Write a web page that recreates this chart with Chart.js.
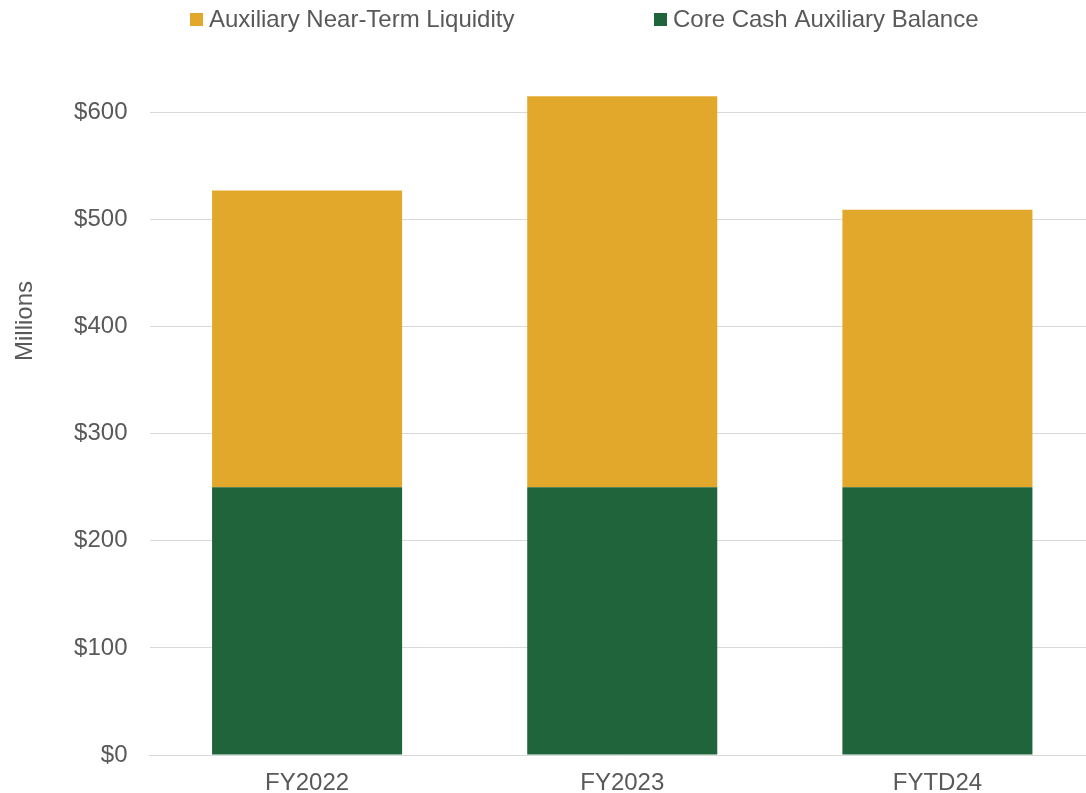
<!DOCTYPE html>
<html>
<head>
<meta charset="utf-8">
<script src="https://cdn.jsdelivr.net/npm/chart.js@4/dist/chart.umd.min.js"></script>
<style>
  html, body { margin: 0; padding: 0; background: #fff; overflow: hidden; }
  #wrap { width: 1086px; height: 793px; overflow: hidden; }
</style>
</head>
<body>
<div id="wrap"><canvas id="chart" width="1095" height="793"></canvas></div>
<script>
// ─── Data ─────────────────────────────────────────────────────────────────────
const categories = ["FY2022", "FY2023", "FYTD24"];
const coreCash   = [250, 250, 250];   // Core Cash Auxiliary Balance ($M)
const nearTerm   = [277, 365, 259];   // Auxiliary Near-Term Liquidity ($M)
const yTicks     = [0, 100, 200, 300, 400, 500, 600];

const GREEN  = "#1F643A";
const ORANGE = "#E1A82C";
const TEXT   = "#595959";
const GRID   = "#D9D9D9";
const FONT   = "'Liberation Sans', Arial, sans-serif";

Chart.defaults.font.family = FONT;
Chart.defaults.color = TEXT;

// legend + rotated axis title drawn in one small plugin
const decorPlugin = {
    id: "decor",
    afterDraw(chart) {
        const c = chart.ctx;
        c.save();
        c.font = "24px " + FONT;
        c.textBaseline = "middle";
        const items = [
            { label: chart.data.datasets[1].label, color: chart.data.datasets[1].backgroundColor, x: 190 },
            { label: chart.data.datasets[0].label, color: chart.data.datasets[0].backgroundColor, x: 654 },
        ];
        items.forEach(it => {
            c.fillStyle = it.color;
            c.fillRect(it.x, 13, 13, 13);
            c.fillStyle = TEXT;
            c.textAlign = "left";
            c.fillText(it.label, it.x + 19, 20);
        });
        // y title
        c.fillStyle = TEXT;
        c.translate(25, 321);
        c.rotate(-Math.PI / 2);
        c.textAlign = "center";
        c.fillText("Millions", 0, 0);
        c.restore();
    }
};

new Chart(document.getElementById("chart"), {
    type: "bar",
    plugins: [decorPlugin],
    data: {
        labels: categories,
        datasets: [
            { label: "Core Cash Auxiliary Balance", data: coreCash, backgroundColor: GREEN,
              barPercentage: 0.603, categoryPercentage: 1 },
            { label: "Auxiliary Near-Term Liquidity", data: nearTerm, backgroundColor: ORANGE,
              barPercentage: 0.603, categoryPercentage: 1 },
        ]
    },
    options: {
        responsive: false,
        animation: false,
        layout: { padding: { top: 48, right: 0, left: 0, bottom: 0 } },
        plugins: { legend: { display: false }, tooltip: { enabled: false } },
        scales: {
            x: {
                stacked: true,
                grid: { display: false, drawTicks: false },
                border: { color: GRID, width: 1 },
                ticks: { font: { size: 24 }, color: TEXT, padding: 14 },
                afterFit: s => { s.height = 38; }
            },
            y: {
                stacked: true,
                min: 0, max: 660,
                afterBuildTicks: s => { s.ticks = yTicks.map(v => ({ value: v })); },
                grid: { color: GRID, lineWidth: 1, drawTicks: false },
                border: { display: false },
                ticks: { font: { size: 24 }, color: TEXT, padding: 22,
                         callback: v => "$" + v },
                afterFit: s => { s.width = 149.5; }
            }
        }
    }
});
</script>
</body>
</html>
